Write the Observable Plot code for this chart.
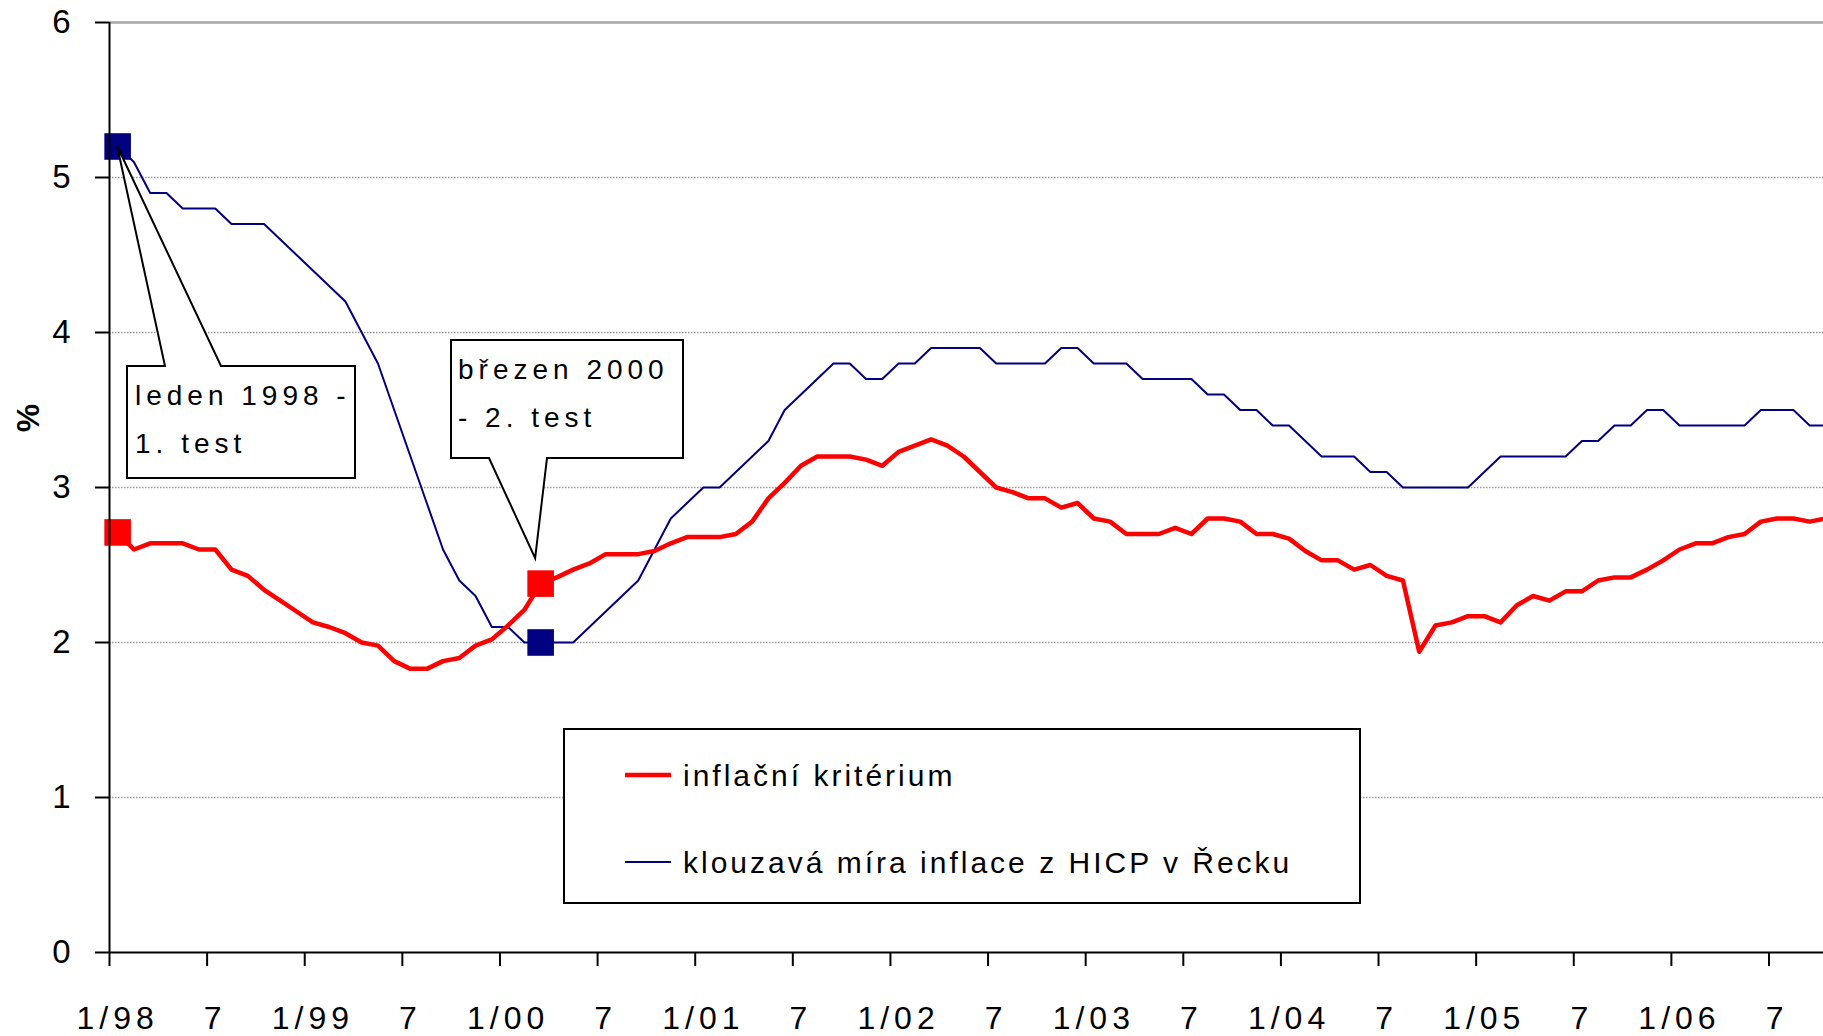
<!DOCTYPE html>
<html><head><meta charset="utf-8">
<script src="https://cdn.jsdelivr.net/npm/d3@7"></script>
<script src="https://cdn.jsdelivr.net/npm/@observablehq/plot@0.6"></script>
<style>
html,body{margin:0;padding:0;background:#fff;}
#chart{position:relative;width:1823px;height:1036px;overflow:hidden;}
svg text{font-family:"Liberation Sans",Arial,sans-serif;}
[aria-label="x-axis tick label"] text{letter-spacing:5px;}
</style></head><body><div id="chart"></div>
<script>
// Monthly values, January 1998 onwards
const inflationCriterion = [
  2.71, 2.60, 2.64, 2.64, 2.64, 2.60, 2.60, 2.47, 2.43, 2.34, 2.27, 2.20,
  2.13, 2.10, 2.06, 2.00, 1.98, 1.88, 1.83, 1.83, 1.88, 1.90, 1.98, 2.02,
  2.11, 2.21, 2.38, 2.42, 2.47, 2.51, 2.57, 2.57, 2.57, 2.59, 2.64, 2.68,
  2.68, 2.68, 2.70, 2.78, 2.93, 3.03, 3.14, 3.20, 3.20, 3.20, 3.18, 3.14,
  3.23, 3.27, 3.31, 3.27, 3.20, 3.10, 3.00, 2.97, 2.93, 2.93, 2.87, 2.90,
  2.80, 2.78, 2.70, 2.70, 2.70, 2.74, 2.70, 2.80, 2.80, 2.78, 2.70, 2.70,
  2.67, 2.59, 2.53, 2.53, 2.47, 2.50, 2.43, 2.40, 1.94, 2.11, 2.13, 2.17,
  2.17, 2.13, 2.24, 2.30, 2.27, 2.33, 2.33, 2.40, 2.42, 2.42, 2.47, 2.53,
  2.60, 2.64, 2.64, 2.68, 2.70, 2.78, 2.80, 2.80, 2.78, 2.80
];
const greeceHICP = [
  5.2, 5.1, 4.9, 4.9, 4.8, 4.8, 4.8, 4.7, 4.7, 4.7, 4.6, 4.5,
  4.4, 4.3, 4.2, 4.0, 3.8, 3.5, 3.2, 2.9, 2.6, 2.4, 2.3, 2.1,
  2.1, 2.0, 2.0, 2.0, 2.0, 2.1, 2.2, 2.3, 2.4, 2.6, 2.8, 2.9,
  3.0, 3.0, 3.1, 3.2, 3.3, 3.5, 3.6, 3.7, 3.8, 3.8, 3.7, 3.7,
  3.8, 3.8, 3.9, 3.9, 3.9, 3.9, 3.8, 3.8, 3.8, 3.8, 3.9, 3.9,
  3.8, 3.8, 3.8, 3.7, 3.7, 3.7, 3.7, 3.6, 3.6, 3.5, 3.5, 3.4,
  3.4, 3.3, 3.2, 3.2, 3.2, 3.1, 3.1, 3.0, 3.0, 3.0, 3.0, 3.0,
  3.1, 3.2, 3.2, 3.2, 3.2, 3.2, 3.3, 3.3, 3.4, 3.4, 3.5, 3.5,
  3.4, 3.4, 3.4, 3.4, 3.4, 3.5, 3.5, 3.5, 3.4, 3.4
];
const tickLabels = ["1/98","7","1/99","7","1/00","7","1/01","7","1/02","7","1/03","7","1/04","7","1/05","7","1/06","7"];
const yTicks = [0, 1, 2, 3, 4, 5, 6];
const testMonths = [0, 26];            // leden 1998, březen 2000
const seriesNames = ["inflační kritérium", "klouzavá míra inflace z HICP v Řecku"];
const seriesColors = ["#ff0000", "#000080"];
const annotationLines = [["leden 1998 -", "1. test"], ["březen 2000", "- 2. test"]];
const yLabel = "%";

const red = inflationCriterion.map((v, i) => ({m: i + 0.5, v}));
const blue = greeceHICP.map((v, i) => ({m: i + 0.5, v}));
const markers = testMonths.flatMap(i => [
  {m: i + 0.5, v: inflationCriterion[i], c: seriesColors[0]},
  {m: i + 0.5, v: greeceHICP[i], c: seriesColors[1]}
]);
const tickPos = tickLabels.map((_, k) => k * 6);
const labelPos = tickLabels.map((_, k) => k * 6 + 0.5);

const chart = Plot.plot({
  width: 1823, height: 1036,
  marginLeft: 109, marginRight: 0, marginTop: 22, marginBottom: 84,
  x: {type: "linear", domain: [0, 105.35]},
  y: {domain: [0, 6]},
  style: {fontFamily: "'Liberation Sans', Arial, sans-serif", fontSize: "32px", color: "black", background: "white", overflow: "visible"},
  marks: [
    Plot.ruleY(yTicks.filter(v => v > 0 && v < 6), {stroke: "#9a9a9a", strokeWidth: 1.5, strokeDasharray: "1.5,1.5"}),
    Plot.ruleY([6], {stroke: "#a6a6a6", strokeWidth: 2.5}),
    Plot.line(blue, {x: "m", y: "v", stroke: seriesColors[1], strokeWidth: 2, clip: true}),
    Plot.line(red, {x: "m", y: "v", stroke: seriesColors[0], strokeWidth: 4.5, clip: true}),
    Plot.dot(markers, {x: "m", y: "v", fill: "c", symbol: "square", r: 15}),
    Plot.ruleX([0], {stroke: "black", strokeWidth: 2}),
    Plot.ruleY([0], {stroke: "black", strokeWidth: 2}),
    Plot.axisY(yTicks, {tickSize: 14, tickPadding: 25, fontSize: 33, strokeWidth: 2, label: null,
      tickFormat: d => String(d)}),
    Plot.axisX(tickPos, {tickSize: 14, tickFormat: () => "", strokeWidth: 2, label: null}),
    Plot.axisX(labelPos, {tickSize: 0, tickPadding: 54, fontSize: 32, label: null,
      tickFormat: d => tickLabels[Math.round((d - 0.5) / 6)]})
  ]
});
document.getElementById("chart").appendChild(chart);

const sx = chart.scale("x"), sy = chart.scale("y");
const svg = d3.select(chart);
const g = svg.append("g").attr("fill", "black").attr("text-anchor", "start");

// y label
g.append("text").attr("transform", "translate(28,418) rotate(-90)")
  .attr("text-anchor", "middle").attr("dominant-baseline", "central")
  .attr("font-size", 32).attr("font-weight", "bold").text(yLabel);

// callout 1: points at the first blue marker
{
  const tx = sx.apply(testMonths[0] + 0.5), ty = sy.apply(greeceHICP[testMonths[0]]);
  g.append("path")
    .attr("d", `M127,366 H165 L${tx},${ty} L221,366 H355 V478 H127 Z`)
    .attr("fill", "white").attr("stroke", "black").attr("stroke-width", 2).attr("stroke-linejoin", "miter");
  annotationLines[0].forEach((t, k) => g.append("text").attr("x", 135).attr("y", 405 + k * 48)
    .attr("font-size", 28).attr("letter-spacing", "5px").text(t));
}
// callout 2: points at the March 2000 red marker
{
  const tx = sx.apply(testMonths[1] + 0.5) - 5, ty = sy.apply(inflationCriterion[testMonths[1]]) - 25;
  g.append("path")
    .attr("d", `M451,340 H683 V458 H547 L${tx},${ty} L489,458 H451 Z`)
    .attr("fill", "white").attr("stroke", "black").attr("stroke-width", 2);
  annotationLines[1].forEach((t, k) => g.append("text").attr("x", 458).attr("y", 379 + k * 48)
    .attr("font-size", 28).attr("letter-spacing", "5px").text(t));
}
// legend
{
  const lg = svg.append("g").attr("text-anchor", "start");
  lg.append("rect").attr("x", 564).attr("y", 729).attr("width", 796).attr("height", 174)
    .attr("fill", "white").attr("stroke", "black").attr("stroke-width", 2);
  const rows = [775, 862], widths = [4.5, 2];
  seriesNames.forEach((name, k) => {
    lg.append("line").attr("x1", 625).attr("x2", 671).attr("y1", rows[k]).attr("y2", rows[k])
      .attr("stroke", seriesColors[k]).attr("stroke-width", widths[k]);
    lg.append("text").attr("x", 683).attr("y", rows[k] + 11).attr("font-size", 30)
      .attr("letter-spacing", "3px").attr("fill", "black").text(name);
  });
}
</script></body></html>
